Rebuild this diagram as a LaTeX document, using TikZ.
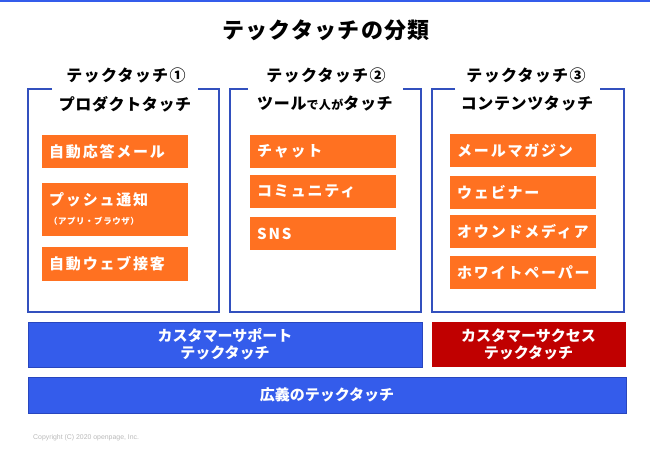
\documentclass[tikz,border=0pt]{standalone}
\usepackage{fontspec}
\setmainfont{Noto Sans CJK JP}
\newfontfamily\latinfont{Liberation Sans}
\usetikzlibrary{positioning}
\definecolor{ttorange}{RGB}{255,113,33}
\definecolor{ttframe}{RGB}{50,80,190}
\definecolor{ttblue}{RGB}{52,92,235}
\definecolor{ttblueedge}{RGB}{40,70,190}
\definecolor{ttred}{RGB}{192,0,0}
\newcommand{\fs}[1]{\fontsize{#1}{#1}\selectfont}
\newcommand{\spaced}[1]{\addfontfeature{LetterSpace=#1}}

\begin{document}
\begin{tikzpicture}[x=1pt, y=-1pt, every node/.style={inner sep=0pt, font=\bfseries},
             head/.style={font=\bfseries\fs{16}\spaced{8}},
             sub/.style={font=\bfseries\fs{16}\spaced{4}},
             item/.style={fill=ttorange, text=white, anchor=north west,
                          minimum height=33pt, text width=132pt, inner xsep=7pt,
                          align=left, font=\bfseries\fs{15}\spaced{12}},
             frame/.style={draw=ttframe, line width=1.6pt},
             bar/.style={fill=ttblue, draw=ttblueedge, line width=0.8pt, text=white,
                         align=center, font=\bfseries\fs{15}}]
\useasboundingbox (0,0) rectangle (650,450);
\draw[ttblue, line width=1.6pt] (0,0.8) -- (650,0.8);

%% title
\node[font=\bfseries\fs{22}\spaced{6}] (title) at (326,30) {テックタッチの分類};

%% column 1: product touch
\node[head] (head1) at (126,75) {テックタッチ①};
\draw[frame] (52,89) -| (28,312) -| (219,89) -- (198,89);
\node[sub] (sub1) at (125,104) {プロダクトタッチ};
\node[item] (auto1) at (42,135) {自動応答メール};
\node[item, minimum height=53pt, below=14pt of auto1.south west, anchor=north west]
  (push) {\raisebox{-2pt}{プッシュ通知}\\[6pt]{\fs{8.5}\spaced{6}（アプリ・ブラウザ）}};
\node[item, minimum height=34pt, below=11pt of push.south west, anchor=north west]
  (auto2) {自動ウェブ接客};

%% column 2: people through tools
\node[head] (head2) at (326,75) {テックタッチ②};
\draw[frame] (248,89) -| (230,312) -| (421,89) -- (403,89);
\node[sub] (sub2) at (325,104) {ツール{\fs{12}で人が}タッチ};
\node[item] (chat) at (250,135) {チャット};
\node[item, below=6pt of chat.south west, anchor=north west] (comm) {コミュニティ};
\node[item, below=9pt of comm.south west, anchor=north west] (sns) {SNS};

%% column 3: content touch
\node[head] (head3) at (526,75) {テックタッチ③};
\draw[frame] (455,89) -| (432,312) -| (624,89) -- (600,89);
\node[sub] (sub3) at (527,104) {コンテンツタッチ};
\node[item] (mag) at (450,134) {メールマガジン};
\node[item, below=8pt of mag.south west, anchor=north west] (web) {ウェビナー};
\node[item, below=6pt of web.south west, anchor=north west] (owned) {オウンドメディア};
\node[item, below=8pt of owned.south west, anchor=north west] (white) {ホワイトペーパー};

%% bottom bars
\node[bar, minimum width=394pt, minimum height=45pt] (support) at (225,344.5)
  {カスタマーサポート\\[2pt]テックタッチ};
\node[bar, fill=ttred, draw=ttred, minimum width=193pt, minimum height=44pt] (success)
  at (528.5,344) {カスタマーサクセス\\[2pt]テックタッチ};
\node[bar, minimum width=598pt, minimum height=36pt] (broad) at (327,395)
  {広義のテックタッチ};

\node[anchor=west, text=gray!55, font=\latinfont\fs{6.9}] (copy) at (33,438)
  {Copyright (C) 2020 openpage, Inc.};
\end{tikzpicture}
\end{document}
